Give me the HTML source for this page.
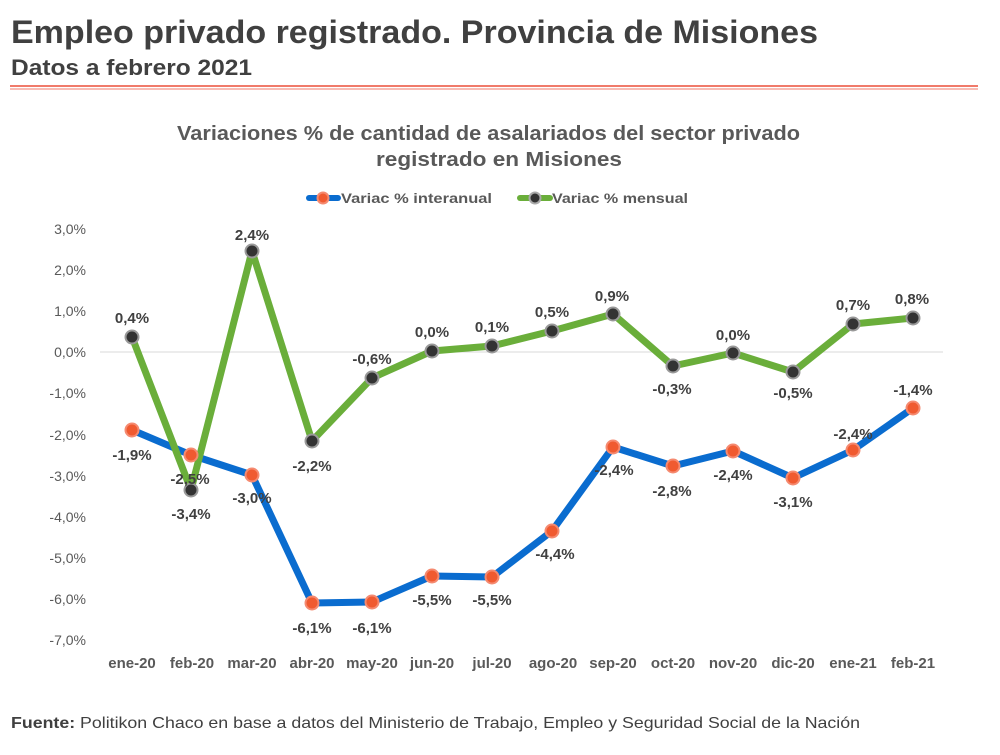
<!DOCTYPE html>
<html><head><meta charset="utf-8"><style>
html,body{margin:0;padding:0;background:#fff;}
body{width:1000px;height:750px;overflow:hidden;font-family:"Liberation Sans",sans-serif;}
</style></head><body>
<svg width="1000" height="750" xmlns="http://www.w3.org/2000/svg" font-family="Liberation Sans, sans-serif">
<text x="11" y="43" font-size="32" font-weight="bold" fill="#404040" textLength="807" lengthAdjust="spacingAndGlyphs">Empleo privado registrado. Provincia de Misiones</text>
<text x="11" y="75" font-size="22" font-weight="bold" fill="#404040" textLength="241" lengthAdjust="spacingAndGlyphs">Datos a febrero 2021</text>
<line x1="10" y1="86" x2="978" y2="86" stroke="#f07a6a" stroke-width="2"/>
<line x1="10" y1="89" x2="978" y2="89" stroke="#f07a6a" stroke-width="1"/>
<text x="177" y="140" font-size="20" font-weight="bold" fill="#595959" textLength="623" lengthAdjust="spacingAndGlyphs">Variaciones % de cantidad de asalariados del sector privado</text>
<text x="376" y="166" font-size="20" font-weight="bold" fill="#595959" textLength="246" lengthAdjust="spacingAndGlyphs">registrado en Misiones</text>
<!-- legend -->
<line x1="309" y1="198" x2="338" y2="198" stroke="#0a6ccf" stroke-width="6" stroke-linecap="round"/>
<circle cx="323" cy="198" r="5.5" fill="#f05a30" stroke="#f58a70" stroke-width="2"/>
<text x="341" y="203" font-size="14" font-weight="bold" fill="#595959" textLength="151" lengthAdjust="spacingAndGlyphs">Variac % interanual</text>
<line x1="520" y1="198" x2="550" y2="198" stroke="#6aae3a" stroke-width="6" stroke-linecap="round"/>
<circle cx="535" cy="198" r="5.5" fill="#333" stroke="#aaa" stroke-width="2"/>
<text x="552" y="203" font-size="14" font-weight="bold" fill="#595959" textLength="136" lengthAdjust="spacingAndGlyphs">Variac % mensual</text>
<!-- y axis -->
<g font-size="14" fill="#595959" text-anchor="end">
<text x="86" y="234">3,0%</text><text x="86" y="275">2,0%</text><text x="86" y="316">1,0%</text>
<text x="86" y="357">0,0%</text><text x="86" y="398">-1,0%</text><text x="86" y="440">-2,0%</text>
<text x="86" y="481">-3,0%</text><text x="86" y="522">-4,0%</text><text x="86" y="563">-5,0%</text>
<text x="86" y="604">-6,0%</text><text x="86" y="645">-7,0%</text>
</g>
<line x1="100" y1="352" x2="943" y2="352" stroke="#d9d9d9" stroke-width="1"/>
<g font-size="15" font-weight="bold" fill="#595959" text-anchor="middle">
<text x="132" y="668">ene-20</text><text x="192" y="668">feb-20</text><text x="252" y="668">mar-20</text>
<text x="312" y="668">abr-20</text><text x="372" y="668">may-20</text><text x="432" y="668">jun-20</text>
<text x="492" y="668">jul-20</text><text x="553" y="668">ago-20</text><text x="613" y="668">sep-20</text>
<text x="673" y="668">oct-20</text><text x="733" y="668">nov-20</text><text x="793" y="668">dic-20</text>
<text x="853" y="668">ene-21</text><text x="913" y="668">feb-21</text>
</g>
<polyline fill="none" stroke="#0a6ccf" stroke-width="7" stroke-linejoin="round" points="132,430 191,455 252,475 312,603 372,602 432,576 492,577 552,531 613,447 673,466 733,451 793,478 853,450 913,408"/>
<polyline fill="none" stroke="#6aae3a" stroke-width="7" stroke-linejoin="round" points="132,337 191,490 252,251 312,441 372,378 432,351 492,346 552,331 613,314 673,366 733,353 793,372 853,324 913,318"/>
<g fill="#f05a30" stroke="#f58a70" stroke-width="2">
<circle cx="132" cy="430" r="6.5"/><circle cx="191" cy="455" r="6.5"/><circle cx="252" cy="475" r="6.5"/>
<circle cx="312" cy="603" r="6.5"/><circle cx="372" cy="602" r="6.5"/><circle cx="432" cy="576" r="6.5"/>
<circle cx="492" cy="577" r="6.5"/><circle cx="552" cy="531" r="6.5"/><circle cx="613" cy="447" r="6.5"/>
<circle cx="673" cy="466" r="6.5"/><circle cx="733" cy="451" r="6.5"/><circle cx="793" cy="478" r="6.5"/>
<circle cx="853" cy="450" r="6.5"/><circle cx="913" cy="408" r="6.5"/>
</g>
<g fill="#333" stroke="#999" stroke-width="2">
<circle cx="132" cy="337" r="6.5"/><circle cx="191" cy="490" r="6.5"/><circle cx="252" cy="251" r="6.5"/>
<circle cx="312" cy="441" r="6.5"/><circle cx="372" cy="378" r="6.5"/><circle cx="432" cy="351" r="6.5"/>
<circle cx="492" cy="346" r="6.5"/><circle cx="552" cy="331" r="6.5"/><circle cx="613" cy="314" r="6.5"/>
<circle cx="673" cy="366" r="6.5"/><circle cx="733" cy="353" r="6.5"/><circle cx="793" cy="372" r="6.5"/>
<circle cx="853" cy="324" r="6.5"/><circle cx="913" cy="318" r="6.5"/>
</g>
<g font-size="15" font-weight="bold" fill="#404040" text-anchor="middle">
<text x="132" y="460">-1,9%</text><text x="190" y="484">-2,5%</text><text x="252" y="503">-3,0%</text>
<text x="312" y="633">-6,1%</text><text x="372" y="633">-6,1%</text><text x="432" y="605">-5,5%</text>
<text x="492" y="605">-5,5%</text><text x="555" y="559">-4,4%</text><text x="614" y="475">-2,4%</text>
<text x="672" y="496">-2,8%</text><text x="733" y="480">-2,4%</text><text x="793" y="507">-3,1%</text>
<text x="853" y="439">-2,4%</text><text x="913" y="395">-1,4%</text>
<text x="132" y="323">0,4%</text><text x="191" y="519">-3,4%</text><text x="252" y="240">2,4%</text>
<text x="312" y="471">-2,2%</text><text x="372" y="364">-0,6%</text><text x="432" y="337">0,0%</text>
<text x="492" y="332">0,1%</text><text x="552" y="317">0,5%</text><text x="612" y="301">0,9%</text>
<text x="672" y="394">-0,3%</text><text x="733" y="340">0,0%</text><text x="793" y="398">-0,5%</text>
<text x="853" y="310">0,7%</text><text x="912" y="304">0,8%</text>
</g>
<text x="11" y="728" font-size="16" fill="#404040" textLength="849" lengthAdjust="spacingAndGlyphs"><tspan font-weight="bold">Fuente:</tspan> Politikon Chaco en base a datos del Ministerio de Trabajo, Empleo y Seguridad Social de la Nación</text>
</svg>
</body></html>
